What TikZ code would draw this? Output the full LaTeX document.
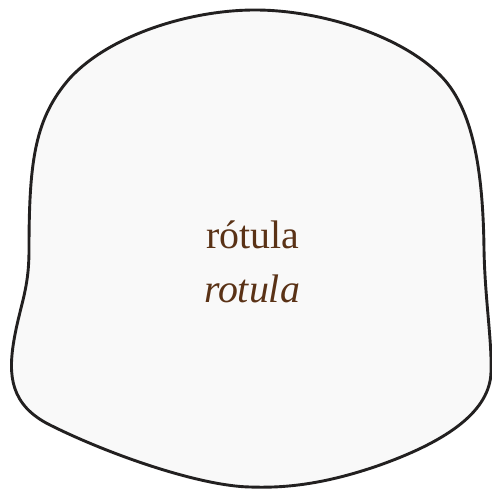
\documentclass[tikz,border=0pt]{standalone}
\usepackage{fontspec}
\setmainfont{Liberation Serif}
\definecolor{bonefill}{HTML}{F9F9F9}
\definecolor{boneline}{HTML}{222020}
\definecolor{namebrown}{HTML}{5A3216}
\begin{document}
\begin{tikzpicture}[x=1bp,y=-1bp,every node/.style={text=namebrown,font=\fontsize{40}{54}\selectfont,inner sep=0pt}]
\useasboundingbox (0,0) rectangle (492,489);
% outline of the bone
\draw[line width=2.9bp,boneline,fill=bonefill]
  (29,250) .. controls (29,160) and (35,118) .. (70,78)
  .. controls (110,35) and (190,10) .. (255,10)
  .. controls (320,10) and (400,35) .. (440,75)
  .. controls (470,105) and (483,160) .. (484,250)
  .. controls (485,300) and (492,340) .. (491,372)
  .. controls (490,410) and (450,440) .. (380,465)
  .. controls (320,486) and (280,488) .. (250,487)
  .. controls (200,486) and (110,455) .. (50,425)
  .. controls (10,405) and (8,375) .. (14,340)
  .. controls (20,305) and (29,290) .. cycle;
\node[anchor=base] (namept) at (252.5,248) {rótula};
\node[anchor=base] (namela) at (252,302) {\textit{rotula}};
\end{tikzpicture}
\end{document}
